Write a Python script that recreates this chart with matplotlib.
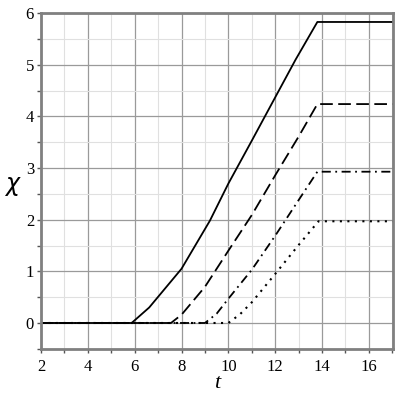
import matplotlib
matplotlib.use("Agg")
import matplotlib.pyplot as plt
from matplotlib.ticker import MultipleLocator

# Data
t_solid = [2, 5.87, 6.62, 8, 9.21, 10, 11, 12, 12.87, 13.8, 17.1]
chi_solid = [0, 0, 0.30, 1.05, 1.98, 2.70, 3.53, 4.37, 5.10, 5.83, 5.83]

t_dash = [2, 7.55, 8, 9, 10, 11, 12, 13, 13.8, 17.1]
chi_dash = [0, 0, 0.16, 0.70, 1.40, 2.09, 2.86, 3.61, 4.24, 4.24]

t_dashdot = [2, 9.0, 9.5, 10, 11, 12, 13, 13.8, 17.1]
chi_dashdot = [0, 0, 0.18, 0.47, 1.03, 1.69, 2.38, 2.93, 2.93]

t_dot = [2, 10.0, 10.5, 11, 12, 13, 13.85, 17.1]
chi_dot = [0, 0, 0.17, 0.40, 0.95, 1.51, 1.97, 1.97]

xticks = [2, 4, 6, 8, 10, 12, 14, 16]
yticks = [0, 1, 2, 3, 4, 5, 6]

plt.rcParams['font.family'] = ['Liberation Serif', 'DejaVu Serif']
plt.rcParams['mathtext.fontset'] = 'dejavusans'

fig = plt.figure(figsize=(4, 4), dpi=100)
ax = fig.add_axes([0.1025, 0.128, 0.88, 0.839])

ax.plot(t_solid, chi_solid, color='black', lw=1.3, linestyle='-')
ax.plot(t_dash, chi_dash, color='black', lw=1.3, linestyle=(0, (7, 3)))
ax.plot(t_dashdot, chi_dashdot, color='black', lw=1.3, linestyle=(0, (5, 2.5, 1, 2.5)))
ax.plot(t_dot, chi_dot, color='black', lw=1.5, linestyle=(0, (1, 2.6)))

ax.set_xlim(2, 17.03)
ax.set_ylim(-0.5, 6.0)
ax.set_xticks(xticks)
ax.set_yticks(yticks)
ax.xaxis.set_minor_locator(MultipleLocator(1))
ax.yaxis.set_minor_locator(MultipleLocator(0.5))

ax.grid(which='major', color='#9a9a9a', lw=0.9)
ax.grid(which='minor', color='#e0e0e0', lw=0.8)
ax.set_axisbelow(True)

for s in ax.spines.values():
    s.set_color('#808080')
    s.set_linewidth(2)

ax.tick_params(which='both', direction='out', color='#555555', labelsize=12, pad=2)
ax.tick_params(which='major', length=3, width=1)
ax.tick_params(which='minor', length=3, width=1)
ax.tick_params(axis='x', pad=4)

fig.text(13/400, 1 - 186/400, r'$\chi$', fontsize=17, ha='center', va='center')
fig.text(217/400, 1 - 383/400, 't', fontsize=16, style='italic', ha='center', va='center')

fig.savefig('out.png', dpi=100)
